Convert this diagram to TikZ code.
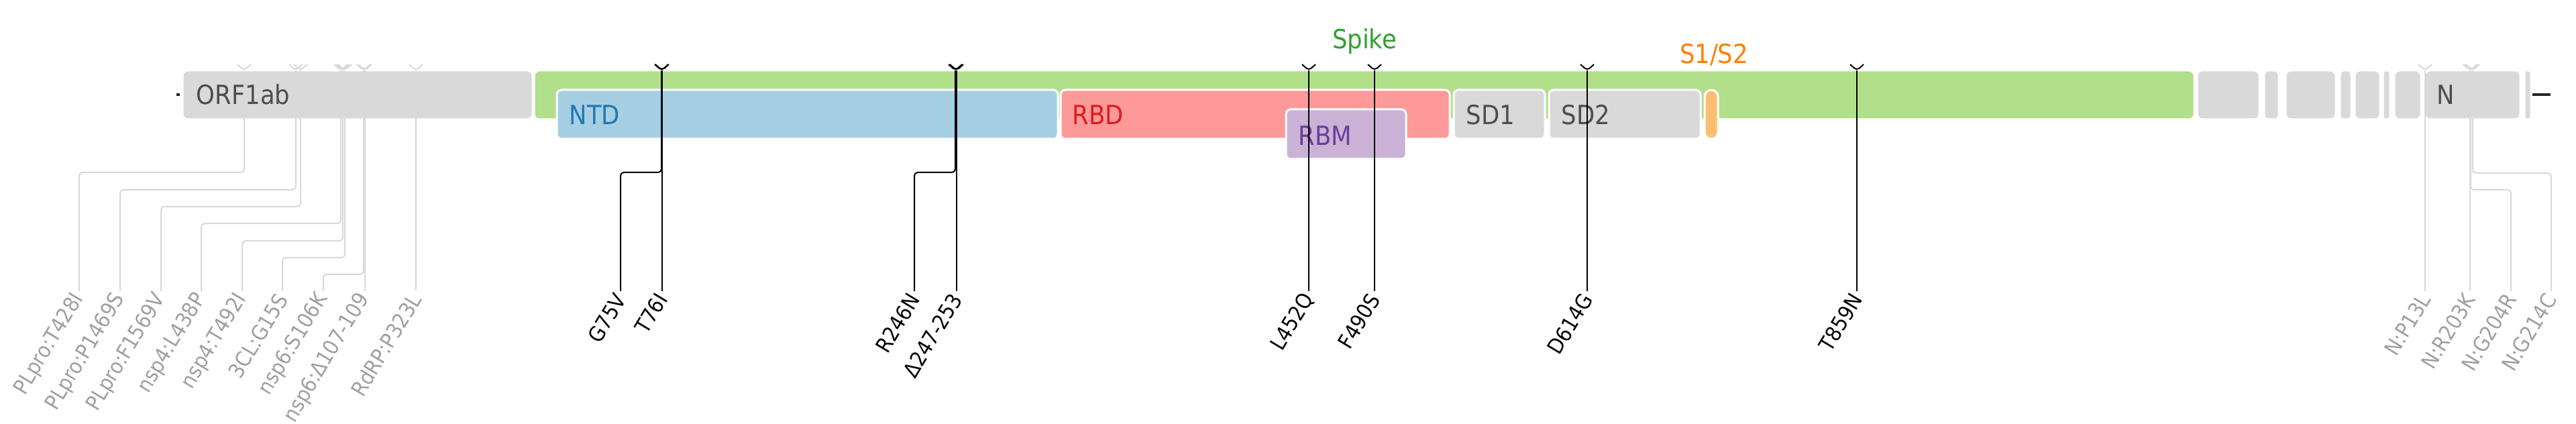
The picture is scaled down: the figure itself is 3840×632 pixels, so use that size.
\documentclass[tikz,border=0pt]{standalone}
\usepackage{fontspec}
\setmainfont{DejaVu Sans}[FakeStretch=0.9]
\definecolor{genegrey}{HTML}{D9D9D9}
\definecolor{spikegreen}{HTML}{B2DF8A}
\definecolor{ntdblue}{HTML}{A6CEE3}
\definecolor{rbdred}{HTML}{FB9A99}
\definecolor{rbmpurple}{HTML}{CAB2D6}
\definecolor{cleaveorange}{HTML}{FDBF6F}
\definecolor{darklabel}{HTML}{4D4D4D}
\definecolor{ntdtext}{HTML}{1F78B4}
\definecolor{rbdtext}{HTML}{E31A1C}
\definecolor{rbmtext}{HTML}{6A3D9A}
\definecolor{spiketext}{HTML}{33A02C}
\definecolor{cleavetext}{HTML}{FF7F00}
\definecolor{mutgrey}{HTML}{A0A0A0}
\definecolor{linegrey}{HTML}{D9D9D9}

\tikzset{
  gene/.style={fill=genegrey, draw=white, line width=0.1mm, rounded corners=0.7mm},
  subdomain/.style={draw=white, line width=0.3mm, rounded corners=0.7mm},
  boxlabel/.style={anchor=west, inner sep=0pt, font=\fontsize{11.2}{13}\selectfont, text=darklabel},
  mutlabel/.style={anchor=east, rotate=59, inner sep=0pt, font=\fontsize{9}{10}\selectfont},
  marker/.style={line width=0.2mm, rounded corners=0.5mm},
  orf line/.style={draw=linegrey},
  orf text/.style={text=mutgrey},
  spk line/.style={draw=black},
  spk text/.style={text=black},
}

\begin{document}
\begin{tikzpicture}[x=0.1mm, y=-0.1mm]
  \useasboundingbox (0,0) rectangle (3840,632);
  % genome ends
  \draw [line width=0.4mm, draw=black!85] (263,141) -- (268,141);
  \draw [line width=0.4mm, draw=black!85] (3775,141) -- (3802,141);
  % genes
  \foreach \x/\w/\r in {273/520/7, 3276/91/7, 3376/20/5, 3408/73/7, 3489/15/4,
      3511/36/7, 3553/9/3, 3570/38/7, 3615/141/7, 3764/8/3}
    \draw [gene, rounded corners=\r*0.1mm] (\x,106) rectangle ++(\w,71);
  \draw [gene, fill=spikegreen] (797,106) rectangle (3270,177);
  % spike subdomains
  \draw [subdomain, fill=ntdblue] (830,134) rectangle (1577,207);
  \draw [subdomain, fill=rbdred] (1581,134) rectangle (2161,207);
  \draw [subdomain, fill=rbmpurple] (1917,163) rectangle (2096,237);
  \draw [subdomain, fill=genegrey] (2167,134) rectangle (2303,207);
  \draw [subdomain, fill=genegrey] (2309,134) rectangle (2535,207);
  \draw [subdomain, fill=cleaveorange, rounded corners=1mm] (2541,134) rectangle (2561,207);
  % box labels
  \node [boxlabel] (orf1ab) at (292,141) {ORF1ab};
  \node [boxlabel, text=ntdtext] (ntd) at (848,171) {NTD};
  \node [boxlabel, text=rbdtext] (rbd) at (1598,171) {RBD};
  \node [boxlabel, text=rbmtext] (rbm) at (1935,202) {RBM};
  \node [boxlabel] (sd1) at (2185,171) {SD1};
  \node [boxlabel] (sd2) at (2327,171) {SD2};
  \node [boxlabel] (ngene) at (3632,141) {N};
  \node [boxlabel, anchor=base, text=spiketext] (spike) at (2034,73) {Spike};
  \node [boxlabel, anchor=base, text=cleavetext] (s1s2) at (2555,95) {S1/S2};
  % mutations: name/site/label x/elbow y (0 = straight)/group/text
  \foreach \i/\m/\l/\e/\c/\t in {
      orf1/364/118/257/orf/{PLpro:T428I}, orf2/441/179/283/orf/{PLpro:P1469S},
      orf3/448/240/308/orf/{PLpro:F1569V}, orf4/508/300/333/orf/{nsp4:L438P},
      orf5/511/361/359/orf/{nsp4:T492I}, orf6/514/421/384/orf/{3CL:G15S},
      orf7/542/482/409/orf/{nsp6:S106K}, orf8/544/544/0/orf/{nsp6:Δ107-109},
      orf9/620/620/0/orf/{RdRP:P323L},
      sp1/986/925/257/spk/{G75V}, sp2/987/987/0/spk/{T76I},
      sp3/1424/1363/257/spk/{R246N}, sp4/1426/1426/0/spk/{Δ247-253},
      sp5/1951/1951/0/spk/{L452Q}, sp6/2049/2049/0/spk/{F490S},
      sp7/2366/2366/0/spk/{D614G}, sp8/2768/2768/0/spk/{T859N},
      nm1/3615/3615/0/orf/{N:P13L}, nm2/3682/3682/0/orf/{N:R203K},
      nm3/3683/3743/283/orf/{N:G204R}, nm4/3686/3803/258/orf/{N:G214C}}
  {
    \coordinate (\i tip) at (\m,105);
    \node [mutlabel, \c\space text] (\i) at (\l,440) {\t};
    \ifnum\e=0
      \draw [marker, \c\space line, shorten >=0.6mm] (\i tip) -- (\i.east);
    \else
      \draw [marker, \c\space line, shorten >=0.6mm] (\i tip) -- (\m,\e) -- (\l,\e) -- (\i.east);
    \fi
    \draw [marker, \c\space line] (\i tip) ++(-10,-9) -- (\i tip) -- ++(10,-9);
  }
\end{tikzpicture}
\end{document}
